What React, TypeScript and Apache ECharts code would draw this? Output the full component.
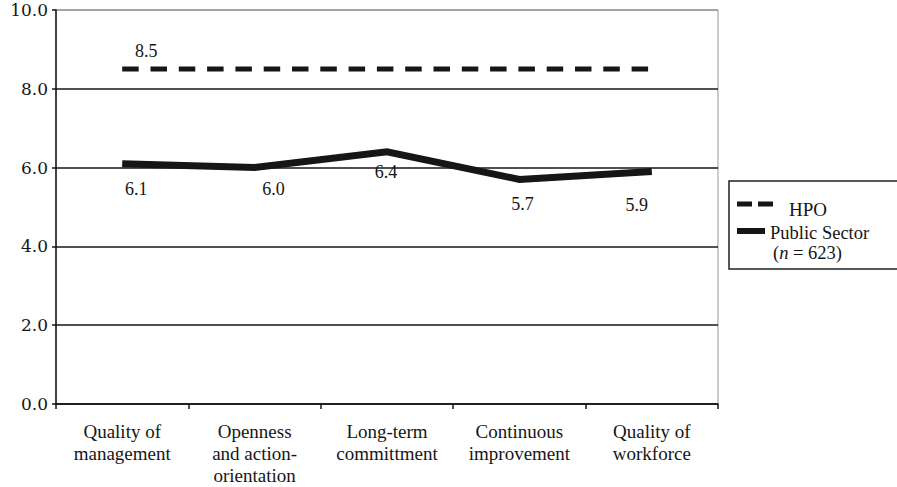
import React, { useEffect, useRef } from "react";
import * as echarts from "echarts";

const categories = [
  "Quality of\nmanagement",
  "Openness\nand action-\norientation",
  "Long-term\ncommittment",
  "Continuous\nimprovement",
  "Quality of\nworkforce",
];
const hpoValues = [8.5, 8.5, 8.5, 8.5, 8.5];
const publicValues = [6.1, 6.0, 6.4, 5.7, 5.9];
const yTicks = { min: 0, max: 10, interval: 2 };

// label offsets (styling only)
const publicLabelOffsets = [
  [14, 25],
  [19, 21],
  [-1, 20],
  [3, 25],
  [-15, 33],
];
const hpoLabelOffset = [24, -18];

const SERIF = "'Liberation Serif', 'Times New Roman', serif";
const INK = "#161616";

export default function App() {
  const ref = useRef<HTMLDivElement>(null);
  useEffect(() => {
    if (!ref.current) return;
    const chart = echarts.init(ref.current, undefined, { renderer: "svg" });
    const option: any = {
      animation: false,
      backgroundColor: "#ffffff",
      grid: {
        left: 56,
        right: 179,
        top: 10,
        bottom: 83,
        show: true,
        borderColor: "#999",
        borderWidth: 1,
        containLabel: false,
      },
      xAxis: {
        type: "category",
        data: categories,
        boundaryGap: true,
        axisLine: { lineStyle: { color: INK, width: 1.5 } },
        axisTick: { show: true, length: 5, lineStyle: { color: INK, width: 1.5 } },
        axisLabel: {
          color: INK,
          fontFamily: SERIF,
          fontSize: 19,
          lineHeight: 22,
          margin: 16,
          interval: 0,
        },
        splitLine: { show: false },
      },
      yAxis: {
        type: "value",
        min: yTicks.min,
        max: yTicks.max,
        interval: yTicks.interval,
        axisLine: { show: true, lineStyle: { color: INK, width: 1.5 } },
        axisTick: { show: true, length: 4, lineStyle: { color: INK, width: 1.5 } },
        axisLabel: {
          color: INK,
          fontFamily: "'DejaVu Serif', serif",
          fontSize: 17,
          margin: 8,
          formatter: (v: number) => v.toFixed(1),
        },
        splitLine: {
          show: true,
          lineStyle: {
            color: [INK, INK, INK, INK, INK, "#999"],
            width: 1.5,
          },
        },
      },
      series: [
        {
          name: "HPO",
          type: "line",
          data: hpoValues.map((v, i) => ({
            value: v,
            label: {
              show: i === 0,
              position: "inside",
              offset: hpoLabelOffset,
            },
          })),
          symbol: "circle",
          symbolSize: 1,
          itemStyle: { color: "rgba(0,0,0,0)" },
          lineStyle: { color: INK, width: 5, type: [16.5, 11.8], cap: "butt" },
          label: {
            color: INK,
            fontFamily: SERIF,
            fontSize: 18,
            formatter: (p: any) => Number(p.value).toFixed(1),
          },
          z: 3,
        },
        {
          name: "Public Sector",
          type: "line",
          data: publicValues.map((v, i) => ({
            value: v,
            label: {
              show: true,
              position: "inside",
              offset: publicLabelOffsets[i],
            },
          })),
          symbol: "circle",
          symbolSize: 1,
          itemStyle: { color: "rgba(0,0,0,0)" },
          lineStyle: { color: INK, width: 7, cap: "butt", join: "miter" },
          label: {
            color: INK,
            fontFamily: SERIF,
            fontSize: 18,
            formatter: (p: any) => Number(p.value).toFixed(1),
          },
          z: 3,
        },
      ],
      graphic: [
        {
          type: "rect",
          shape: { x: 729, y: 181, width: 200, height: 88 },
          style: { fill: "#fff", stroke: "#222", lineWidth: 1.5 },
          z: 10,
        },
        {
          type: "line",
          shape: { x1: 737, y1: 204, x2: 773, y2: 204 },
          style: { stroke: INK, lineWidth: 5, lineDash: [15, 6] },
          z: 11,
        },
        {
          type: "text",
          x: 789,
          y: 209,
          style: {
            text: "HPO",
            fill: INK,
            font: `19px ${SERIF}`,
            textVerticalAlign: "middle",
          },
          z: 11,
        },
        {
          type: "line",
          shape: { x1: 737, y1: 231, x2: 765, y2: 231 },
          style: { stroke: INK, lineWidth: 6 },
          z: 11,
        },
        {
          type: "text",
          x: 770,
          y: 233,
          style: {
            text: "Public Sector",
            fill: INK,
            font: `18.5px ${SERIF}`,
            textVerticalAlign: "middle",
          },
          z: 11,
        },
        {
          type: "text",
          x: 773,
          y: 253,
          style: {
            text: "{p|(}{i|n}{p| = 623)}",
            fill: INK,
            textVerticalAlign: "middle",
            rich: {
              p: { fontFamily: SERIF, fontSize: 18.5, fill: INK },
              i: { fontFamily: SERIF, fontSize: 18.5, fontStyle: "italic", fill: INK },
            },
          },
          z: 11,
        },
      ],
    };
    chart.setOption(option);
    return () => chart.dispose();
  }, []);
  return (
    <div
      ref={ref}
      style={{ position: "fixed", left: 0, top: 0, width: 897, height: 487, background: "#fff" }}
    />
  );
}
